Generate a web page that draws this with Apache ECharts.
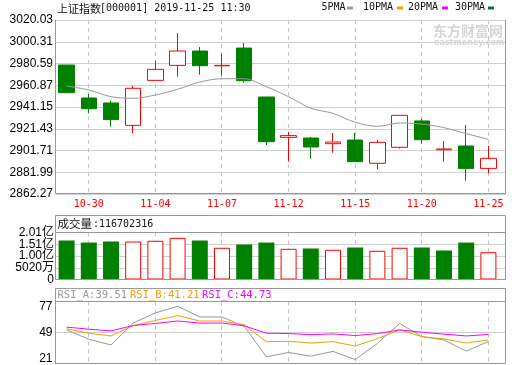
<!DOCTYPE html>
<html><head><meta charset="utf-8">
<script src="https://cdn.jsdelivr.net/npm/echarts@6/dist/echarts.min.js"></script>
<style>html,body{margin:0;padding:0;background:#fff}#c{width:520px;height:365px}</style>
</head><body><div id="c"></div>
<script>
const dates = ['10-29','10-30','10-31','11-01','11-04','11-05','11-06','11-07','11-08','11-11','11-12','11-13','11-14','11-15','11-18','11-19','11-20','11-21','11-22','11-25'];
const openP  = [2979.2,2949.3,2944.8,2924.5,2965.3,2978.9,2991.9,2978.5,2994.6,2950.2,2913.6,2913.0,2907.9,2911.2,2890.1,2904.6,2928.5,2902.4,2905.8,2885.5];
const closeP = [2954.1,2939.6,2929.7,2958.1,2975.3,2991.9,2978.6,2978.9,2965.0,2909.7,2915.2,2904.9,2909.4,2891.6,2909.1,2933.6,2911.5,2903.1,2885.3,2894.6];
const lowP   = [2954.1,2935.4,2923.3,2917.3,2965.3,2968.7,2970.5,2969.6,2963.2,2906.7,2891.6,2894.3,2899.7,2891.6,2884.6,2903.4,2907.9,2891.6,2874.3,2881.0];
const highP  = [2979.2,2952.9,2946.9,2960.2,2982.9,3008.2,2995.5,2989.8,2999.2,2950.2,2918.5,2914.0,2917.6,2917.6,2911.2,2933.6,2930.3,2910.3,2924.8,2905.8];
const maLine = [2960.2,2956.6,2950.5,2949.0,2952.0,2957.2,2963.8,2966.8,2966.8,2959.6,2950.5,2940.0,2935.4,2927.3,2923.6,2926.6,2925.7,2922.4,2917.0,2911.8];
const volume = [166800000,158000000,162500000,162500000,165500000,178000000,166800000,135600000,149700000,158000000,131300000,132600000,127000000,136900000,122700000,135600000,136900000,124000000,158000000,116702316];
const rsiA = [51.9,41.9,35.8,59.1,69.9,77.0,65.6,65.6,55.5,23.2,27.9,23.9,29.0,20.3,37.5,58.7,44.7,41.1,29.3,39.5];
const rsiB = [53.0,48.3,45.4,56.5,61.9,67.0,61.3,61.3,57.3,39.3,39.7,37.9,39.3,34.7,42.5,51.9,44.7,42.2,37.9,41.2];
const rsiC = [54.8,52.6,50.8,56.5,58.7,61.3,59.1,59.1,56.2,48.3,48.0,46.8,47.6,45.8,47.9,51.9,49.4,47.3,45.4,47.0];
const priceTicks = ['2862.27','2881.99','2901.71','2921.43','2941.15','2960.87','2980.59','3000.31','3020.03'];
const volumeTicks = ['0','5020万','1.00亿','1.51亿','2.01亿'];
const rsiTicks = ['21','49','77'];
const labelEvery = 3, labelStart = 1;

const UP = '#ff0000', DOWN = '#008000', GRIDC = '#d0d0d0', GUIDEC = '#c4c4c4', FRAME = '#999999', CLEAR = 'rgba(0,0,0,0)';
const L = 55.5, WDATA = 444, WFULL = 450;
const MONO = '"DejaVu Sans Mono", monospace';
const SANS = '"Liberation Sans", Arial, "Noto Sans CJK SC", sans-serif';
const CJK = '"Noto Sans CJK SC", sans-serif';

const showIdx = (i) => i % labelEvery === labelStart;
const guideDates = dates.filter((d, i) => showIdx(i));

function catAxis(grid, showLabel) {
  return {
    type: 'category', gridIndex: grid, data: dates, boundaryGap: true,
    axisLine: {show: false}, axisTick: {show: false}, splitLine: {show: false},
    axisLabel: showLabel ? {show: true, interval: (i) => showIdx(i), color: UP, fontFamily: MONO, fontSize: 10, margin: 5} : {show: false}
  };
}
function hiddenX(grid) { return {type: 'value', gridIndex: grid, min: 0, max: 1, show: false}; }
function labelY(grid, ticks, colors, margin, pad, keep) {
  return {
    type: 'value', gridIndex: grid, min: 0, max: ticks.length - 1, interval: 1, position: 'left',
    axisLine: {show: false}, axisTick: {show: false},
    axisLabel: {formatter: (v) => { const k = Math.round(v); return keep(k) ? ticks[k] : ''; },
      color: '#000', fontFamily: SANS, fontSize: 12, margin: margin,
      showMinLabel: true, showMaxLabel: true, hideOverlap: false, padding: pad},
    splitLine: {show: colors !== null, lineStyle: {color: colors || GRIDC, width: 1}}
  };
}
const all = () => true;

// dashed vertical guides at the labelled categories, placed by the category axis
function guideSeries(xi, yi) {
  return {
    type: 'custom', xAxisIndex: xi, yAxisIndex: yi, z: 1, silent: true, clip: false,
    data: guideDates.map((d) => [d]),
    encode: {x: 0},
    renderItem: (params, api) => {
      const x = api.coord([api.value(0), 0])[0];
      const cs = params.coordSys;
      const px = Math.round(x - 0.5) + 0.5;
      return {type: 'line', silent: true,
        shape: {x1: px, y1: cs.y, x2: px, y2: cs.y + cs.height},
        style: {stroke: GUIDEC, lineWidth: 1, lineDash: [4, 4], fill: null}};
    }
  };
}

const candleData = dates.map((d, i) => [openP[i], closeP[i], lowP[i], highP[i]]);
const volData = volume.map((v, i) => {
  const rise = i === 0 ? closeP[i] >= openP[i] : closeP[i] >= closeP[i - 1];
  return {value: v, itemStyle: rise ? {color: '#ffffff', borderColor: UP, borderWidth: 1} : {color: DOWN, borderWidth: 0}};
});

function txt(x, y, text, font, fill, extra) {
  return Object.assign({type: 'text', x: x, y: y, silent: true, z: 110,
    style: {text: text, font: font, fill: fill, align: 'left', verticalAlign: 'middle'}}, extra || {});
}
function poly(points) {
  return {type: 'polyline', silent: true, z: 100, shape: {points: points}, style: {stroke: FRAME, lineWidth: 1, fill: null}};
}
const R = L + WFULL;
const graphics = [
  poly([[L, 20], [L, 193.5], [R, 193.5], [R, 20]]),
  {type: 'rect', silent: true, z: 100, shape: {x: L, y: 215.5, width: WFULL, height: 17}, style: {stroke: FRAME, lineWidth: 1, fill: null}},
  poly([[L, 232.5], [L, 279.5], [R, 279.5], [R, 232.5]]),
  {type: 'rect', silent: true, z: 100, shape: {x: L, y: 288.5, width: WFULL, height: 13}, style: {stroke: FRAME, lineWidth: 1, fill: null}},
  poly([[L, 301.5], [L, 363.5], [R, 363.5], [R, 301.5]]),
  txt(57, 8.5, '上证指数', '11px ' + CJK, '#111'),
  txt(100, 8.5, '[000001] 2019-11-25 11:30', '10px ' + MONO, '#111'),
  txt(321.5, 7.5, '5PMA', '10px ' + MONO, '#111'),
  {type: 'rect', silent: true, z: 110, shape: {x: 347, y: 6.5, width: 6, height: 3}, style: {fill: '#a0a0a0'}},
  txt(363, 7.5, '10PMA', '10px ' + MONO, '#111'),
  {type: 'rect', silent: true, z: 110, shape: {x: 397, y: 6.5, width: 6, height: 3}, style: {fill: '#f5a200'}},
  txt(408, 7.5, '20PMA', '10px ' + MONO, '#111'),
  {type: 'rect', silent: true, z: 110, shape: {x: 442, y: 6.5, width: 6, height: 3}, style: {fill: '#ff00ff'}},
  txt(455, 7.5, '30PMA', '10px ' + MONO, '#111'),
  {type: 'rect', silent: true, z: 110, shape: {x: 488, y: 6.5, width: 6, height: 3}, style: {fill: '#007a3d'}},
  txt(433, 31, '东方财富网', 'bold 14px ' + CJK, '#d6d6d6', {z: 1}),
  txt(434, 42.5, 'eastmoney.com', 'bold 8px "DejaVu Sans", sans-serif', '#d6d6d6', {z: 1}),
  txt(57.5, 224, '成交量', '11.5px ' + CJK, '#111'),
  txt(93, 224, ':116702316', '10px ' + MONO, '#111'),
  txt(57.5, 295.3, 'RSI_A:39.51', '10.5px ' + MONO, '#999999'),
  txt(130, 295.3, 'RSI_B:41.21', '10.5px ' + MONO, '#f0a000'),
  txt(202, 295.3, 'RSI_C:44.73', '10.5px ' + MONO, '#ff00ff')
];

const option = {
  animation: false,
  backgroundColor: '#ffffff',
  grid: [
    {left: L, top: 20, width: WDATA, height: 174},
    {left: L, top: 20, width: WFULL, height: 174},
    {left: L, top: 232.5, width: WDATA, height: 47},
    {left: L, top: 232.5, width: WFULL, height: 47},
    {left: L, top: 301.5, width: WDATA, height: 62},
    {left: L, top: 306.5, width: WFULL, height: 52}
  ],
  xAxis: [catAxis(0, true), hiddenX(1), catAxis(2, false), hiddenX(3), catAxis(4, false), hiddenX(5)],
  yAxis: [
    {type: 'value', gridIndex: 0, min: 2862.27, max: 3020.03, show: false},
    labelY(1, priceTicks, GRIDC, 2.5, 0, all),
    {type: 'value', gridIndex: 2, min: 0, max: 201000000, show: false},
    labelY(3, volumeTicks, GRIDC, 1.5, [0, 0, 5, 0], (k) => k % 2 === 0),
    labelY(3, volumeTicks, null, 1.5, [0, 0, 5, 0], (k) => k % 2 === 1),
    {type: 'value', gridIndex: 4, min: 16.12, max: 82.04, show: false},
    labelY(5, rsiTicks, [CLEAR, GRIDC, CLEAR], 3, 0, all)
  ],
  series: [
    guideSeries(0, 0),
    guideSeries(2, 2),
    guideSeries(4, 5),
    {type: 'candlestick', xAxisIndex: 0, yAxisIndex: 0, data: candleData, barWidth: 16, z: 3,
      itemStyle: {color: '#ffffff', color0: DOWN, borderColor: UP, borderColor0: DOWN, borderWidth: 1}},
    {type: 'line', name: '5PMA', xAxisIndex: 0, yAxisIndex: 0, data: maLine, symbol: 'none', smooth: 0.3, z: 4,
      lineStyle: {color: '#999999', width: 1}},
    {type: 'bar', xAxisIndex: 2, yAxisIndex: 2, data: volData, barWidth: 16, z: 3},
    {type: 'line', name: 'RSI_A', xAxisIndex: 4, yAxisIndex: 5, data: rsiA, symbol: 'none', clip: false, z: 3, lineStyle: {color: '#999999', width: 1}},
    {type: 'line', name: 'RSI_B', xAxisIndex: 4, yAxisIndex: 5, data: rsiB, symbol: 'none', clip: false, z: 3, lineStyle: {color: '#f0a000', width: 1}},
    {type: 'line', name: 'RSI_C', xAxisIndex: 4, yAxisIndex: 5, data: rsiC, symbol: 'none', clip: false, z: 3, lineStyle: {color: '#ff00ff', width: 1}}
  ],
  graphic: graphics
};
const chart = echarts.init(document.getElementById('c'), null, {renderer: 'canvas'});
chart.setOption(option);
</script>
</body></html>
